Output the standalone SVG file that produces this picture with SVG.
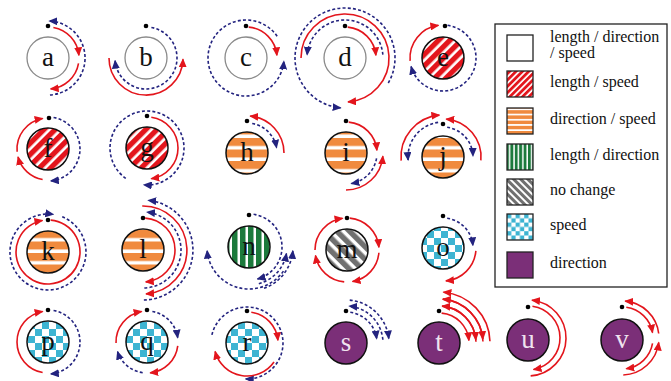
<svg xmlns="http://www.w3.org/2000/svg" width="671" height="381" viewBox="0 0 671 381">
<style>
.o{fill:#fff;stroke:#8a8a8a;stroke-width:1.3}
.k{stroke:#111;stroke-width:1.5}
.d{fill:#000}
.t{font-family:"Liberation Serif","Times New Roman",serif;font-size:27px;text-anchor:middle;fill:#111}
.tw{font-family:"Liberation Serif","Times New Roman",serif;font-size:27px;text-anchor:middle;fill:#efe3ef}
.lt{font-family:"Liberation Serif","Times New Roman",serif;font-size:16px;fill:#111}
.r{fill:none;stroke:#e3151c;stroke-width:1.6;marker-end:url(#ar)}
.b{fill:none;stroke:#23237f;stroke-width:1.6;stroke-dasharray:3 2.2;marker-end:url(#ab)}
.sw{stroke:#222;stroke-width:1.3}
</style>
<defs>
<marker id="ar" markerUnits="userSpaceOnUse" markerWidth="9" markerHeight="8" viewBox="0 0 9 8" refX="8" refY="4" orient="auto"><path d="M0,0L9,4L0,8z" fill="#e3151c"/></marker>
<marker id="ab" markerUnits="userSpaceOnUse" markerWidth="9" markerHeight="8" viewBox="0 0 9 8" refX="8" refY="4" orient="auto"><path d="M0,0L9,4L0,8z" fill="#23237f"/></marker>
<pattern id="pRed" patternUnits="userSpaceOnUse" width="8" height="8" patternTransform="rotate(45)"><rect width="8" height="8" fill="#fff"/><rect width="5.3" height="8" fill="#e3151c"/></pattern>
<pattern id="pOra" patternUnits="userSpaceOnUse" width="11" height="11.5"><rect width="11" height="11.5" fill="#fff"/><rect width="11" height="8" fill="#f08a3e"/></pattern>
<pattern id="pGrn" patternUnits="userSpaceOnUse" width="8" height="8"><rect width="8" height="8" fill="#fff"/><rect width="5.5" height="8" fill="#1c7a3c"/></pattern>
<pattern id="pGry" patternUnits="userSpaceOnUse" width="9" height="9" patternTransform="rotate(-45)"><rect width="9" height="9" fill="#fff"/><rect width="5.5" height="9" fill="#707070"/></pattern>
<pattern id="pCyn" patternUnits="userSpaceOnUse" width="14" height="14"><rect width="14" height="14" fill="#fff"/><rect width="7" height="7" fill="#3db4d2"/><rect x="7" y="7" width="7" height="7" fill="#3db4d2"/></pattern>
<pattern id="lRed" patternUnits="userSpaceOnUse" width="4.5" height="4.5" patternTransform="rotate(45)"><rect width="4.5" height="4.5" fill="#fff"/><rect width="2.8" height="4.5" fill="#e3151c"/></pattern>
<pattern id="lOra" patternUnits="userSpaceOnUse" width="5" height="5.2" y="1"><rect width="5" height="5.2" fill="#fff"/><rect width="5" height="3.5" fill="#f08a3e"/></pattern>
<pattern id="lGrn" patternUnits="userSpaceOnUse" width="4.4" height="4.4"><rect width="4.4" height="4.4" fill="#fff"/><rect width="2.9" height="4.4" fill="#1c7a3c"/></pattern>
<pattern id="lGry" patternUnits="userSpaceOnUse" width="5" height="5" patternTransform="rotate(-45)"><rect width="5" height="5" fill="#fff"/><rect width="3" height="5" fill="#707070"/></pattern>
<pattern id="lCyn" patternUnits="userSpaceOnUse" width="8.6" height="8.6" x="507" y="214"><rect width="8.6" height="8.6" fill="#fff"/><rect width="4.3" height="4.3" fill="#3db4d2"/><rect x="4.3" y="4.3" width="4.3" height="4.3" fill="#3db4d2"/></pattern>
</defs>
<rect width="671" height="381" fill="#fff"/>

<g id="node-a"><circle class="o" cx="48" cy="58" r="21"/><circle class="d" cx="48" cy="26" r="2.3"/><text class="t" x="48" y="66">a</text></g>
<g id="node-b"><circle class="o" cx="146" cy="58" r="21"/><circle class="d" cx="146" cy="26" r="2.3"/><text class="t" x="146" y="66">b</text></g>
<g id="node-c"><circle class="o" cx="246" cy="58" r="21"/><circle class="d" cx="246" cy="26" r="2.3"/><text class="t" x="246" y="66">c</text></g>
<g id="node-d"><circle class="o" cx="345" cy="58" r="21"/><circle class="d" cx="345" cy="26" r="2.3"/><text class="t" x="345" y="66">d</text></g>
<g id="node-e"><circle class="k" fill="url(#pRed)" cx="443" cy="58" r="21"/><circle class="d" cx="445" cy="26" r="2.3"/><text class="t" x="443" y="66">e</text></g>

<g id="node-f"><circle class="k" fill="url(#pRed)" cx="48" cy="149" r="21"/><circle class="d" cx="49" cy="118" r="2.3"/><text class="t" x="48" y="157">f</text></g>
<g id="node-g"><circle class="k" fill="url(#pRed)" cx="147" cy="148" r="21"/><circle class="d" cx="147" cy="116" r="2.3"/><text class="t" x="147" y="156">g</text></g>
<g id="node-h"><circle class="k" fill="url(#pOra)" cx="247" cy="153" r="21"/><circle class="d" cx="247" cy="121" r="2.3"/><text class="t" x="247" y="161">h</text></g>
<g id="node-i"><circle class="k" fill="url(#pOra)" cx="346" cy="153" r="21"/><circle class="d" cx="346" cy="121" r="2.3"/><text class="t" x="346" y="161">i</text></g>
<g id="node-j"><circle class="k" fill="url(#pOra)" cx="443" cy="157" r="21"/><circle class="d" cx="443" cy="124" r="2.3"/><text class="t" x="443" y="165">j</text></g>

<g id="node-k"><circle class="k" fill="url(#pOra)" cx="48" cy="252" r="21"/><circle class="d" cx="48" cy="220" r="2.3"/><text class="t" x="48" y="260">k</text></g>
<g id="node-l"><circle class="k" fill="url(#pOra)" cx="143" cy="250" r="21"/><circle class="d" cx="143" cy="218" r="2.3"/><text class="t" x="143" y="258">l</text></g>
<g id="node-n"><circle class="k" fill="url(#pGrn)" cx="249" cy="247" r="21"/><circle class="d" cx="249" cy="215" r="2.3"/><text class="t" x="249" y="255">n</text></g>
<g id="node-m"><circle class="k" fill="url(#pGry)" cx="347" cy="250" r="21"/><circle class="d" cx="347" cy="218" r="2.3"/><text class="t" x="347" y="258">m</text></g>
<g id="node-o"><circle class="k" fill="url(#pCyn)" cx="443" cy="248" r="21"/><circle class="d" cx="443" cy="216" r="2.3"/><text class="t" x="443" y="256">o</text></g>

<g id="node-p"><circle class="k" fill="url(#pCyn)" cx="48" cy="342" r="21"/><circle class="d" cx="48" cy="310" r="2.3"/><text class="t" x="48" y="350">p</text></g>
<g id="node-q"><circle class="k" fill="url(#pCyn)" cx="147" cy="342" r="21"/><circle class="d" cx="147" cy="310" r="2.3"/><text class="t" x="147" y="350">q</text></g>
<g id="node-r"><circle class="k" fill="url(#pCyn)" cx="247" cy="343" r="21"/><circle class="d" cx="247" cy="311" r="2.3"/><text class="t" x="247" y="351">r</text></g>
<g id="node-s"><circle class="k" fill="#7b2f78" cx="346" cy="343" r="21"/><circle class="d" cx="346" cy="311" r="2.3"/><text class="tw" x="346" y="351">s</text></g>
<g id="node-t"><circle class="k" fill="#7b2f78" cx="439" cy="343" r="21"/><circle class="d" cx="439" cy="311" r="2.3"/><text class="tw" x="439" y="351">t</text></g>
<g id="node-u"><circle class="k" fill="#7b2f78" cx="528" cy="340" r="21"/><circle class="d" cx="528" cy="307" r="2.3"/><text class="tw" x="528" y="348">u</text></g>
<g id="node-v"><circle class="k" fill="#7b2f78" cx="622" cy="340" r="21"/><circle class="d" cx="622" cy="307" r="2.3"/><text class="tw" x="622" y="348">v</text></g>

<g id="connectors">
<!-- a -->
<path class="r" d="M53.38,27.47A31,31 0 0 1 78.88,55.30"/>
<path class="r" d="M78.53,63.38A31,31 0 0 1 50.70,88.88"/>
<path class="b" d="M49.94,94.95A37,37 0 0 0 49.29,21.02"/>
<!-- b -->
<path class="b" d="M151.38,27.47A31,31 0 1 1 115.12,60.70"/>
<path class="r" d="M109,58A37,37 0 0 0 182.98,59.29"/>
<!-- c -->
<path class="r" d="M248.70,27.12A31,31 0 0 1 276.88,55.30"/>
<path class="b" d="M277.13,36.20A38,38 0 1 0 283.86,61.31"/>
<!-- d -->
<path class="r" d="M347.70,27.12A31,31 0 0 1 375.88,55.30"/>
<path class="b" d="M382.86,54.69A38,38 0 0 0 307.14,54.69"/>
<path class="r" d="M301,58A44,44 0 1 1 348.07,101.89"/>
<path class="b" d="M388.30,83A50,50 0 1 0 340.64,107.81"/>
<!-- e -->
<path class="r" d="M410.13,60.88A33,33 0 0 1 438.41,25.32"/>
<path class="b" d="M447.59,25.32A33,33 0 1 1 411.13,66.54"/>
<!-- f -->
<path class="r" d="M42.62,179.53A31,31 0 0 1 18.06,157.02"/>
<path class="r" d="M17.12,151.70A31,31 0 0 1 42.62,118.47"/>
<path class="b" d="M53.56,117.49A32,32 0 0 1 50.79,180.88"/>
<!-- g -->
<path class="r" d="M151.31,117.30A31,31 0 0 1 151.31,178.70"/>
<path class="b" d="M125.78,178.31A37,37 0 1 1 143.78,184.86"/>
<!-- h -->
<path class="r" d="M284,153A37,37 0 0 0 250.22,116.14"/>
<path class="b" d="M252.21,123.46A30,30 0 0 1 276.54,147.79"/>
<!-- i -->
<path class="r" d="M348.70,122.12A31,31 0 0 1 376.88,150.30"/>
<path class="b" d="M376.53,158.38A31,31 0 0 1 351.38,183.53"/>
<path class="r" d="M346,190A37,37 0 0 0 382.86,156.22"/>
<!-- j -->
<path class="r" d="M401.16,160.66A42,42 0 0 1 439.34,115.16"/>
<path class="r" d="M480.86,160.31A38,38 0 0 0 446.31,119.14"/>
<path class="b" d="M438.13,122.34A35,35 0 0 0 408.13,160.05"/>
<path class="b" d="M447.18,127.29A30,30 0 0 1 472.98,155.95"/>
<!-- k -->
<path class="r" d="M50.79,220.12A32,32 0 1 1 42.44,220.49"/>
<path class="b" d="M62.23,216.77A38,38 0 1 1 53.29,214.37"/>
<!-- l -->
<path class="r" d="M145.23,218.08A32,32 0 0 1 145.79,281.88"/>
<path class="b" d="M144.33,287.98A38,38 0 0 0 146.97,212.21"/>
<path class="r" d="M142.23,206.01A44,44 0 0 1 146.07,293.89"/>
<path class="b" d="M143.87,299.99A50,50 0 0 0 148.23,200.28"/>
<!-- n -->
<path class="b" d="M253.59,214.32A33,33 0 0 1 257.54,278.88"/>
<path class="b" d="M258.83,283.70A38,38 0 0 0 286.42,253.60"/>
<path class="b" d="M264.05,288.35A44,44 0 0 0 292.83,250.84"/>
<path class="b" d="M283.41,271.09A42,42 0 0 1 207.16,250.66"/>
<!-- m -->
<path class="r" d="M349.79,218.12A32,32 0 0 1 378.88,247.21"/>
<path class="r" d="M378.88,252.79A32,32 0 0 1 352.56,281.51"/>
<path class="r" d="M344.21,281.88A32,32 0 0 1 315.49,255.56"/>
<path class="r" d="M315,250A32,32 0 0 1 342.55,218.31"/>
<!-- o -->
<path class="b" d="M447.18,218.29A30,30 0 0 1 472.89,245.39"/>
<path class="r" d="M475.87,250.88A33,33 0 0 1 445.88,280.87"/>
<!-- p -->
<path class="r" d="M42.62,372.53A31,31 0 0 1 42.62,311.47"/>
<path class="b" d="M53.56,310.49A32,32 0 0 1 50.79,373.88"/>
<!-- q -->
<path class="r" d="M116.02,343.08A31,31 0 0 1 141.62,311.47"/>
<path class="b" d="M152.38,311.47A31,31 0 0 1 177.70,337.68"/>
<path class="r" d="M177.77,345.78A31,31 0 0 1 150.24,372.83"/>
<path class="b" d="M142.68,372.70A31,31 0 0 1 117.52,351.58"/>
<!-- r -->
<path class="r" d="M251.31,312.30A31,31 0 0 1 277.88,340.30"/>
<path class="b" d="M211.92,334.90A36,36 0 1 1 245.74,378.98"/>
<path class="r" d="M274.03,361.93A33,33 0 0 1 215.13,351.54"/>
<!-- s -->
<path class="b" d="M350.31,312.30A31,31 0 0 1 376.70,338.68"/>
<path class="b" d="M382.86,339.78A37,37 0 0 0 349.22,306.14"/>
<path class="b" d="M349.75,300.16A43,43 0 0 1 388.76,338.51"/>
<!-- t -->
<path class="r" d="M441.61,313.11A30,30 0 0 1 468.89,340.39"/>
<path class="r" d="M442.22,306.14A37,37 0 0 1 475.86,339.78"/>
<path class="r" d="M442.83,299.17A44,44 0 0 1 482.83,339.17"/>
<path class="r" d="M475.98,341.71A37,37 0 0 0 442.22,306.14"/>
<path class="r" d="M482.97,341.46A44,44 0 0 0 442.83,299.17"/>
<path class="r" d="M489.97,341.22A51,51 0 0 0 443.44,292.19"/>
<!-- u -->
<path class="r" d="M532.45,306.31A32,32 0 0 1 533.56,369.51"/>
<path class="r" d="M530.65,375.91A38,38 0 0 0 531.97,300.21"/>
<!-- v -->
<path class="r" d="M626.31,307.30A31,31 0 0 1 652.53,332.62"/>
<path class="r" d="M623.29,374.98A37,37 0 0 0 658.72,342.51"/>
<path class="r" d="M652.53,343.38A31,31 0 0 1 626.31,368.70"/>
<path class="r" d="M658.72,333.49A37,37 0 0 0 625.22,301.14"/>
</g>

<g id="legend">
<rect x="495" y="24" width="172" height="263" fill="#fff" stroke="#222" stroke-width="1.3"/>
<rect class="sw" x="507" y="35" width="26" height="26" fill="#fff"/>
<text class="lt" x="550" y="42">length / direction</text>
<text class="lt" x="550" y="58">/ speed</text>
<rect class="sw" x="507" y="71" width="26" height="26" fill="url(#lRed)"/>
<text class="lt" x="550" y="87">length / speed</text>
<rect class="sw" x="507" y="108" width="26" height="26" fill="url(#lOra)"/>
<text class="lt" x="550" y="124">direction / speed</text>
<rect class="sw" x="507" y="144" width="26" height="26" fill="url(#lGrn)"/>
<text class="lt" x="550" y="160">length / direction</text>
<rect class="sw" x="507" y="179" width="26" height="26" fill="url(#lGry)"/>
<text class="lt" x="550" y="195">no change</text>
<rect class="sw" x="507" y="214" width="26" height="26" fill="url(#lCyn)"/>
<text class="lt" x="550" y="230">speed</text>
<rect class="sw" x="507" y="252" width="26" height="26" fill="#7b2f78"/>
<text class="lt" x="550" y="268">direction</text>
</g>
</svg>
